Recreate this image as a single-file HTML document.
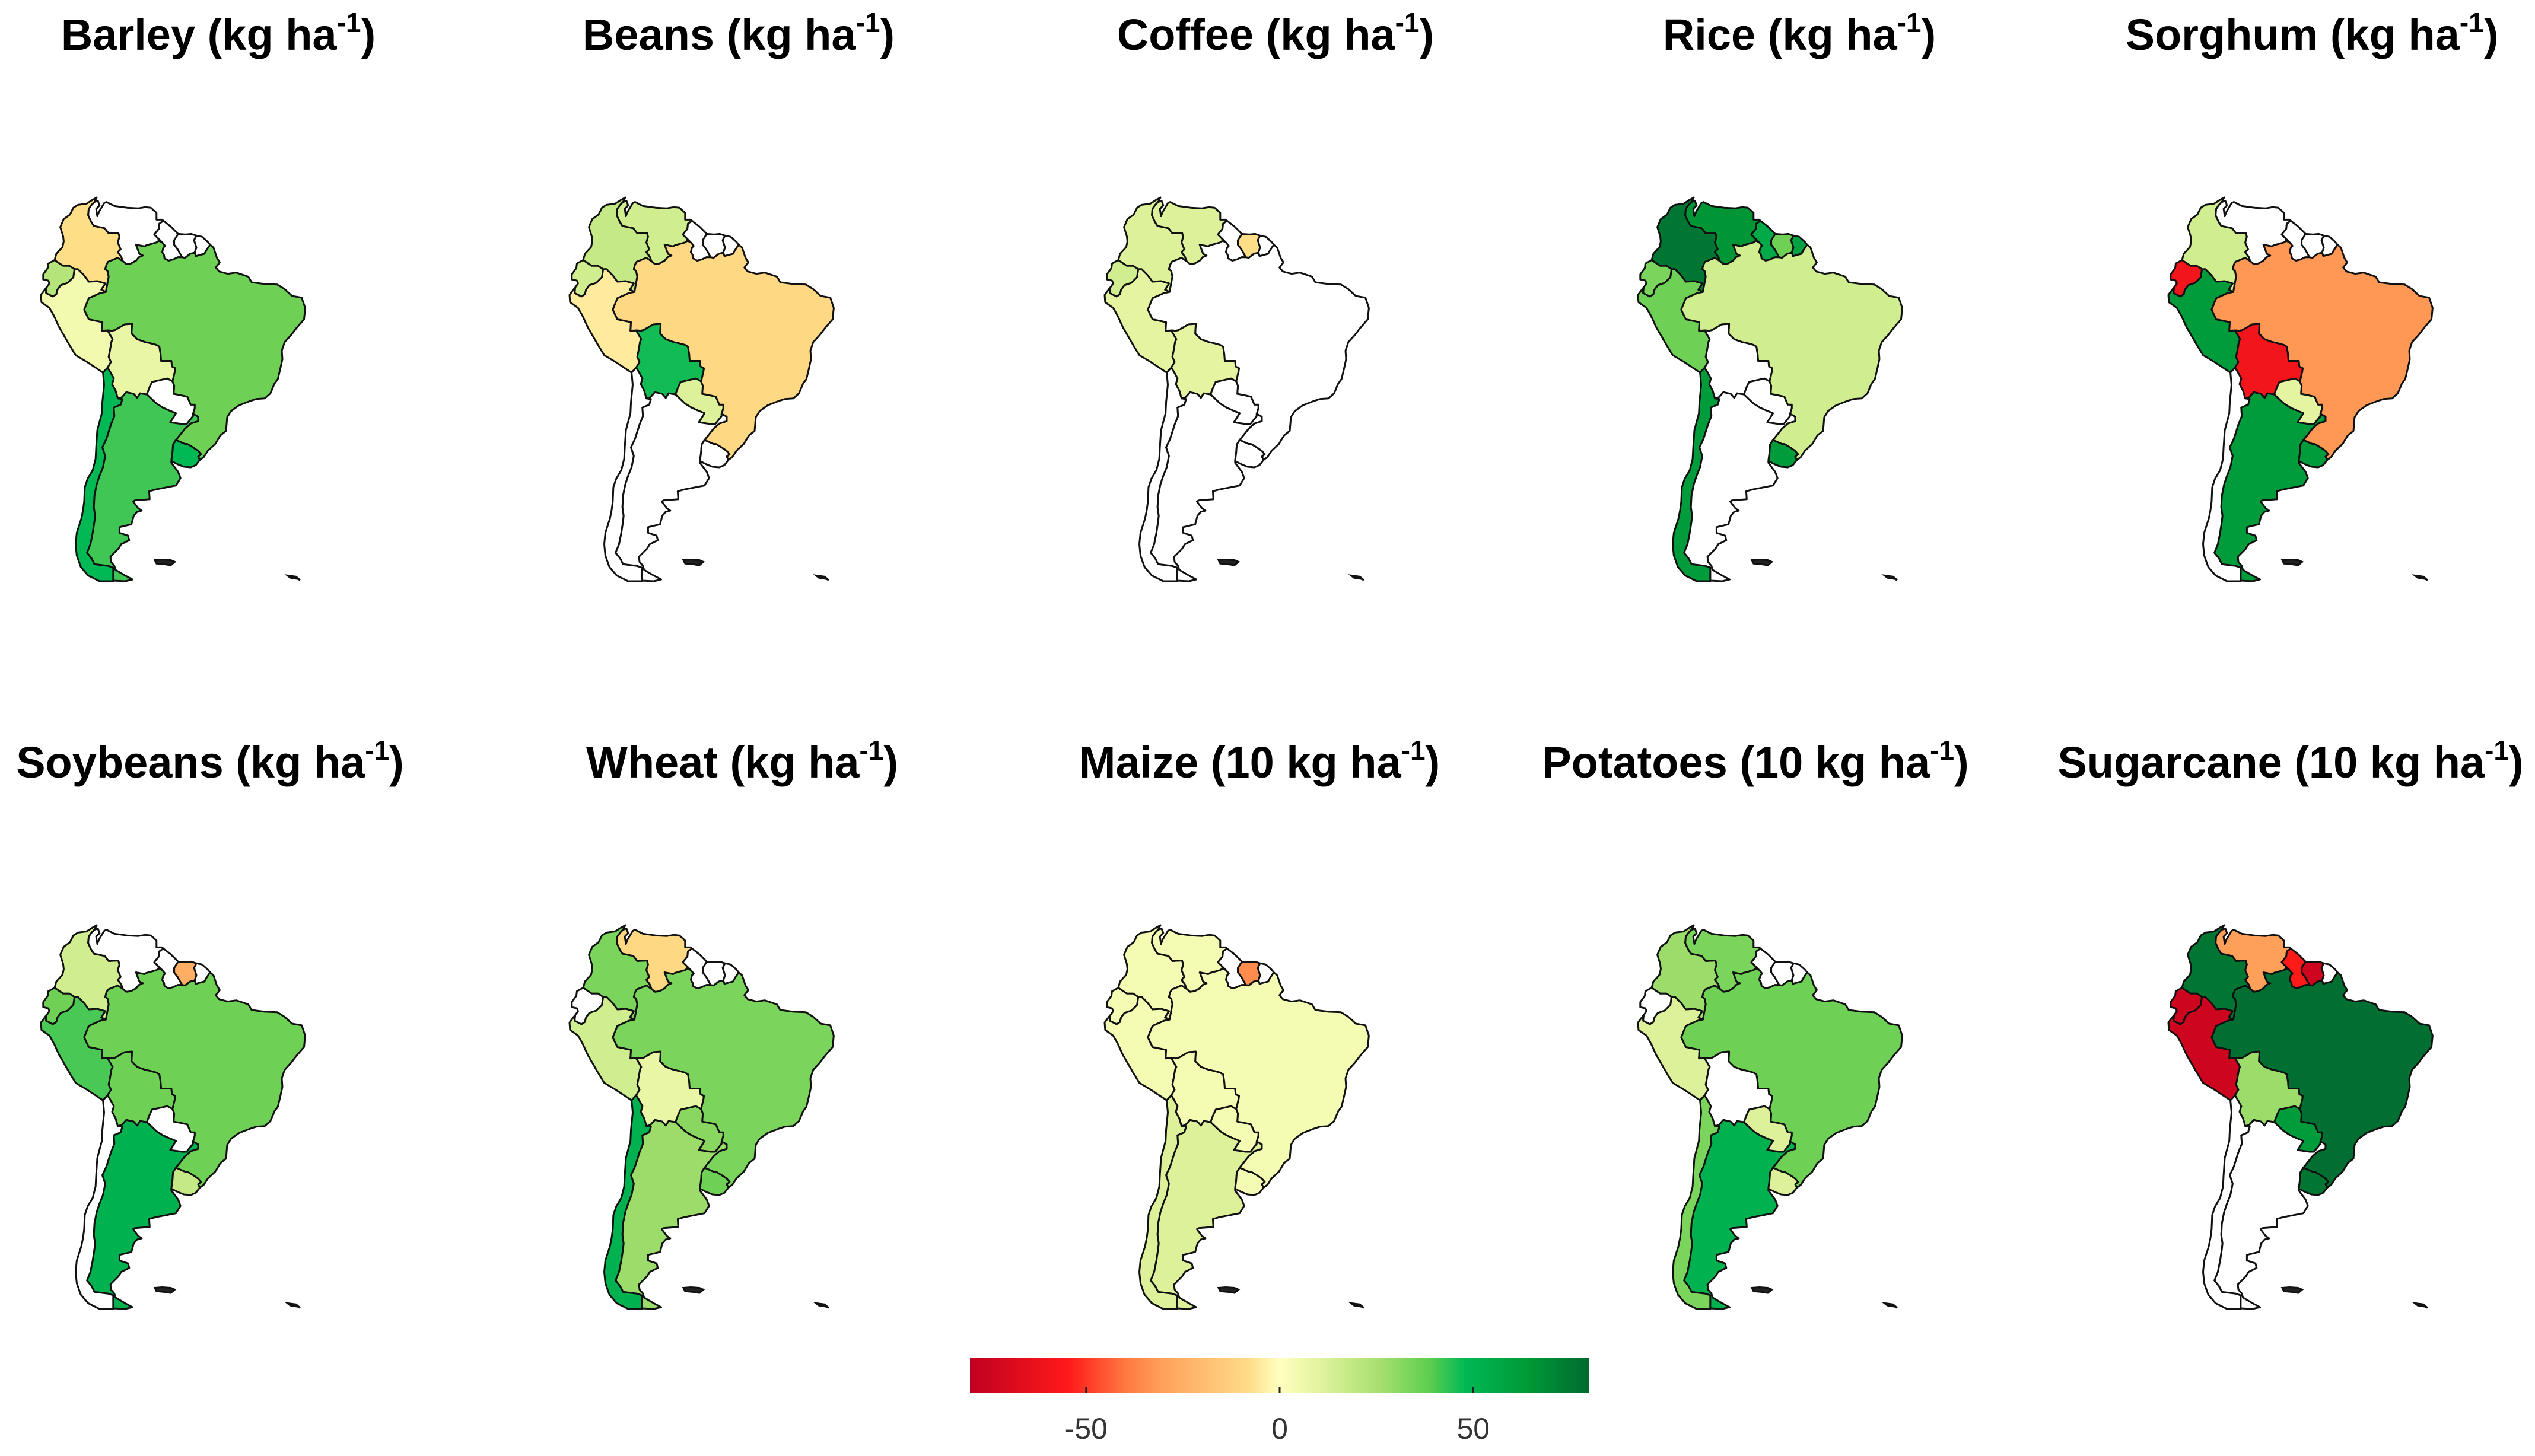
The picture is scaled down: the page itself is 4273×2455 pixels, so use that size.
<!DOCTYPE html>
<html><head><meta charset="utf-8"><style>
html,body{margin:0;padding:0;background:#fff;}
svg{display:block;}
text{font-family:"Liberation Sans",Arial,sans-serif;}
</style></head><body>
<svg id="fig" width="4273" height="2455" viewBox="0 0 4273 2455" xmlns="http://www.w3.org/2000/svg">
<defs>
<linearGradient id="cbar" x1="0" x2="1" y1="0" y2="0">
<stop offset="0" stop-color="#c00020"/>
<stop offset="0.16" stop-color="#ff1a1a"/>
<stop offset="0.25" stop-color="#ff7840"/>
<stop offset="0.31" stop-color="#ffa05a"/>
<stop offset="0.45" stop-color="#ffdc88"/>
<stop offset="0.5" stop-color="#ffffc0"/>
<stop offset="0.56" stop-color="#e4f4a0"/>
<stop offset="0.66" stop-color="#a8e070"/>
<stop offset="0.74" stop-color="#5fcf50"/>
<stop offset="0.80" stop-color="#00b854"/>
<stop offset="0.9" stop-color="#009a36"/>
<stop offset="1" stop-color="#006a30"/>
</linearGradient>
</defs>
<g id="maps"></g>
<g id="colorbar">
<rect x="1635" y="2289" width="1044" height="60" fill="url(#cbar)"/>
<g id="cbticks"></g>
</g>
</svg>
<script>
// ---- data ----
const countries = ["COL","VEN","GUY","SUR","GUF","ECU","PER","BRA","BOL","PRY","CHL","ARG","URY"];
const panelTitles = ["Barley","Beans","Coffee","Rice","Sorghum","Soybeans","Wheat","Maize","Potatoes","Sugarcane"];
const panelUnits = ["kg ha","kg ha","kg ha","kg ha","kg ha","kg ha","kg ha","10 kg ha","10 kg ha","10 kg ha"];
//                 COL  VEN  GUY  SUR  GUF  ECU  PER  BRA  BOL  PRY  CHL  ARG  URY
const barley   = [ -8, null,null,null,null, 22,   5,  38,   8, null, 50,  43,  50];
const beans    = [ 18,  15, null,null,null, 15,  -5, -10,  48,  12, null,null,null];
const coffee   = [ 12,  12, null, -8, null, 15,  10, null, 10, null,null,null,null];
const rice     = [ 75,  62,  55,  38,  58,  35,  38,  15, null,null, 60, null, 60];
const sorghum  = [ 15, null,null,null,null,-60,  60, -32, -60,  10, null, 60,  60];
const soybeans = [ 15, null,null,-25, null, 38,  42,  38,  38, null,null, 52,  18];
const wheat    = [ 35, -10, null,null,null,null, 15,  35,   8,  32,  52,  28,  38];
const maize    = [  4,   4, null,-35, null,  4,   4,   4,   4,   4,  12,  12,   4];
const potatoes = [ 28,  35, null,null,null,null, 12,  38, null, 12,  35,  52,  12];
const sugarcane= [ 75, -30, -55, -75, null,-75, -75,  78,  28,  60, null,null, 75];
const panelValues = [barley,beans,coffee,rice,sorghum,soybeans,wheat,maize,potatoes,sugarcane];
const cbTicks = [-50,0,50];
const cbMin = -80, cbMax = 80;

// ---- geometry (lon,lat) ----
const shapes = {
COL:[[-77.9,7.2],[-77.3,8.6],[-76.2,9.4],[-75.6,10.6],[-74.8,11.1],[-73.3,11.3],[-72.2,12.0],[-71.5,12.4],[-71.9,11.6],[-72.4,11.1],[-72.9,10.4],[-73.0,9.3],[-72.7,8.6],[-72.4,8.0],[-72.0,7.4],[-70.1,7.0],[-69.4,6.1],[-67.7,6.2],[-67.5,5.5],[-67.8,4.5],[-67.3,3.3],[-67.8,2.8],[-67.2,2.0],[-66.9,1.2],[-67.8,1.8],[-69.5,1.1],[-69.8,0.6],[-70.0,-0.2],[-69.6,-0.5],[-69.4,-1.5],[-69.9,-4.2],[-70.7,-3.8],[-70.0,-2.7],[-71.4,-2.3],[-72.9,-2.4],[-73.7,-1.3],[-74.8,-0.2],[-75.4,-0.2],[-76.3,0.4],[-77.4,0.4],[-78.9,1.4],[-78.6,2.5],[-77.5,3.7],[-77.3,4.7],[-77.4,5.6]],
VEN:[[-71.9,11.6],[-71.3,11.8],[-71.0,11.0],[-71.6,10.4],[-71.4,9.1],[-71.1,9.9],[-70.2,11.4],[-69.8,11.6],[-68.4,10.9],[-66.2,10.6],[-64.2,10.5],[-63.0,10.7],[-62.0,10.6],[-61.0,9.7],[-61.0,8.5],[-60.0,8.5],[-59.8,8.3],[-60.5,7.8],[-60.6,6.9],[-61.4,5.9],[-60.7,5.2],[-60.6,4.8],[-61.0,4.5],[-62.8,4.0],[-63.1,3.8],[-64.6,4.1],[-64.0,2.5],[-63.4,2.2],[-64.1,1.9],[-64.6,1.3],[-65.5,0.8],[-66.3,0.7],[-66.9,1.2],[-67.2,2.0],[-67.8,2.8],[-67.3,3.3],[-67.8,4.5],[-67.5,5.5],[-67.7,6.2],[-69.4,6.1],[-70.1,7.0],[-72.0,7.4],[-72.4,8.0],[-72.7,8.6],[-73.0,9.3],[-72.9,10.4],[-72.4,11.1]],
GUY:[[-59.8,8.3],[-58.5,7.3],[-58.0,6.8],[-57.2,6.0],[-57.9,4.9],[-57.9,4.1],[-57.3,3.3],[-56.5,1.9],[-57.3,1.9],[-58.1,1.5],[-58.9,1.3],[-59.6,1.7],[-59.7,2.3],[-60.0,2.8],[-59.8,3.6],[-59.5,3.9],[-60.0,4.5],[-60.7,5.2],[-61.4,5.9],[-60.6,6.9],[-60.5,7.8]],
SUR:[[-57.2,6.0],[-55.9,5.9],[-54.9,6.0],[-54.0,5.7],[-54.4,4.9],[-54.0,3.6],[-54.3,2.7],[-55.1,2.5],[-56.0,1.8],[-56.5,1.9],[-57.3,3.3],[-57.9,4.1],[-57.9,4.9]],
GUF:[[-54.0,5.7],[-53.0,5.5],[-52.0,4.6],[-51.6,4.1],[-52.2,3.2],[-52.6,2.5],[-53.4,2.3],[-54.1,2.1],[-54.3,2.7],[-54.0,3.6],[-54.4,4.9]],
ECU:[[-78.9,1.4],[-77.4,0.4],[-76.3,0.4],[-75.4,-0.2],[-75.6,-1.6],[-76.6,-2.6],[-77.8,-3.0],[-78.4,-3.8],[-78.6,-4.6],[-79.2,-5.0],[-80.4,-4.4],[-80.3,-3.4],[-79.8,-2.7],[-80.0,-2.2],[-80.9,-2.0],[-80.9,-1.1],[-80.1,0.0],[-80.0,0.8]],
PER:[[-75.4,-0.2],[-74.8,-0.2],[-73.7,-1.3],[-72.9,-2.4],[-71.4,-2.3],[-70.0,-2.7],[-70.7,-3.8],[-69.9,-4.2],[-70.9,-4.4],[-72.9,-5.3],[-73.7,-7.3],[-72.9,-9.0],[-70.5,-9.5],[-70.6,-11.0],[-69.6,-10.95],[-68.7,-12.5],[-68.9,-12.9],[-69.2,-14.6],[-69.4,-15.6],[-69.0,-16.5],[-69.6,-17.5],[-70.4,-18.35],[-71.4,-17.7],[-73.2,-16.5],[-75.2,-15.3],[-76.3,-13.5],[-77.1,-12.1],[-78.1,-10.4],[-79.0,-8.4],[-79.8,-7.0],[-81.2,-6.0],[-81.3,-4.7],[-80.4,-3.5],[-80.4,-4.4],[-79.2,-5.0],[-78.6,-4.6],[-78.4,-3.8],[-77.8,-3.0],[-76.6,-2.6],[-75.6,-1.6]],
BOL:[[-69.6,-10.95],[-68.8,-11.0],[-68.3,-10.9],[-66.6,-9.9],[-65.3,-9.8],[-65.4,-11.5],[-64.4,-12.5],[-63.0,-13.0],[-62.1,-13.2],[-61.0,-13.5],[-60.5,-13.8],[-60.3,-15.1],[-60.2,-16.3],[-58.4,-16.3],[-58.3,-17.3],[-57.7,-17.6],[-57.8,-18.2],[-58.2,-19.9],[-59.1,-19.4],[-61.8,-20.0],[-62.3,-21.1],[-62.7,-22.2],[-63.9,-22.0],[-64.4,-22.8],[-65.0,-22.1],[-66.3,-21.8],[-67.1,-22.7],[-67.8,-22.9],[-68.2,-21.5],[-68.8,-20.4],[-68.5,-19.4],[-69.1,-18.3],[-69.6,-17.5],[-69.0,-16.5],[-69.4,-15.6],[-69.2,-14.6],[-68.9,-12.9],[-68.7,-12.5]],
PRY:[[-58.2,-19.9],[-59.1,-19.4],[-61.8,-20.0],[-62.3,-21.1],[-62.7,-22.2],[-61.0,-23.8],[-59.9,-24.5],[-58.8,-25.0],[-57.6,-25.5],[-58.6,-27.1],[-56.5,-27.4],[-55.7,-27.4],[-54.6,-26.0],[-54.6,-25.6],[-54.3,-24.6],[-54.3,-24.0],[-55.0,-24.0],[-55.6,-22.6],[-56.9,-22.3],[-58.0,-22.1],[-57.9,-20.7]],
URY:[[-57.6,-30.2],[-56.0,-30.9],[-55.6,-30.9],[-54.6,-31.5],[-53.7,-32.1],[-53.2,-32.7],[-53.7,-33.1],[-53.4,-33.7],[-54.1,-34.6],[-55.0,-35.0],[-56.2,-34.9],[-57.2,-34.5],[-58.4,-33.9],[-58.2,-32.4],[-58.1,-31.0]],
CHL:[[-69.6,-17.5],[-70.4,-18.35],[-70.2,-20.5],[-70.5,-23.5],[-70.6,-25.5],[-71.4,-28.5],[-71.6,-31.5],[-71.7,-33.5],[-72.2,-35.5],[-73.1,-37.0],[-73.6,-38.5],[-73.7,-41.0],[-73.9,-42.5],[-74.2,-44.0],[-75.0,-46.5],[-75.2,-48.5],[-75.0,-50.5],[-74.3,-52.5],[-73.0,-54.0],[-71.0,-55.0],[-68.6,-55.0],[-68.6,-52.6],[-69.5,-52.3],[-71.9,-52.0],[-72.4,-51.0],[-73.2,-50.0],[-72.6,-48.5],[-72.2,-46.5],[-71.9,-44.5],[-71.8,-43.5],[-72.0,-42.0],[-71.9,-40.0],[-71.5,-38.0],[-71.0,-36.5],[-70.4,-35.0],[-70.0,-33.0],[-70.5,-31.5],[-69.8,-30.0],[-69.0,-27.5],[-68.4,-26.0],[-68.5,-24.5],[-67.3,-24.0],[-67.0,-23.0],[-67.8,-22.9],[-68.2,-21.5],[-68.8,-20.4],[-68.5,-19.4],[-69.1,-18.3]],
ARG:[[-67.8,-22.9],[-67.0,-23.0],[-67.3,-24.0],[-68.5,-24.5],[-68.4,-26.0],[-69.0,-27.5],[-69.8,-30.0],[-70.5,-31.5],[-70.0,-33.0],[-70.4,-35.0],[-71.0,-36.5],[-71.5,-38.0],[-71.9,-40.0],[-72.0,-42.0],[-71.8,-43.5],[-71.9,-44.5],[-72.2,-46.5],[-72.6,-48.5],[-73.2,-50.0],[-72.4,-51.0],[-71.9,-52.0],[-69.5,-52.3],[-68.6,-52.6],[-68.6,-54.9],[-66.5,-55.0],[-65.2,-54.7],[-66.5,-54.0],[-68.2,-53.0],[-68.4,-52.3],[-69.0,-51.6],[-69.1,-50.7],[-68.5,-50.1],[-67.7,-49.3],[-67.2,-48.5],[-65.8,-47.8],[-66.0,-47.0],[-67.5,-46.5],[-67.5,-45.5],[-65.4,-45.0],[-65.0,-43.5],[-64.4,-42.8],[-63.6,-42.6],[-64.2,-42.2],[-65.1,-41.0],[-64.8,-40.8],[-62.2,-40.6],[-62.3,-39.2],[-61.2,-38.9],[-57.6,-38.2],[-56.8,-36.9],[-57.2,-35.8],[-58.4,-34.2],[-58.4,-33.9],[-58.2,-32.4],[-58.1,-31.0],[-57.6,-30.2],[-56.0,-28.2],[-55.0,-27.3],[-53.7,-26.9],[-53.7,-26.1],[-54.6,-25.6],[-54.6,-26.0],[-55.7,-27.4],[-56.5,-27.4],[-58.6,-27.1],[-57.6,-25.5],[-58.8,-25.0],[-59.9,-24.5],[-61.0,-23.8],[-62.7,-22.2],[-63.9,-22.0],[-64.4,-22.8],[-65.0,-22.1],[-66.3,-21.8],[-67.1,-22.7]],
BRA:[[-69.9,-4.2],[-69.4,-1.5],[-69.6,-0.5],[-70.0,-0.2],[-69.8,0.6],[-69.5,1.1],[-67.8,1.8],[-66.9,1.2],[-66.3,0.7],[-65.5,0.8],[-64.6,1.3],[-64.1,1.9],[-63.4,2.2],[-64.0,2.5],[-64.6,4.1],[-63.1,3.8],[-62.8,4.0],[-61.0,4.5],[-60.6,4.8],[-60.0,4.5],[-59.5,3.9],[-59.8,3.6],[-60.0,2.8],[-59.7,2.3],[-59.6,1.7],[-58.9,1.3],[-58.1,1.5],[-57.3,1.9],[-56.5,1.9],[-56.0,1.8],[-55.1,2.5],[-54.3,2.7],[-54.1,2.1],[-53.4,2.3],[-52.6,2.5],[-52.2,3.2],[-51.6,4.1],[-51.0,3.6],[-50.4,1.8],[-49.9,1.0],[-50.6,0.1],[-50.0,-0.6],[-48.5,-1.0],[-47.0,-0.8],[-44.9,-1.5],[-44.3,-2.5],[-42.0,-2.8],[-39.8,-2.9],[-38.5,-3.7],[-37.2,-4.9],[-35.5,-5.2],[-34.9,-7.0],[-35.1,-9.0],[-36.4,-10.5],[-37.4,-11.8],[-38.5,-13.0],[-39.0,-14.5],[-38.9,-16.0],[-39.3,-17.8],[-39.7,-19.5],[-40.3,-20.3],[-41.0,-22.0],[-42.0,-22.9],[-43.5,-23.0],[-44.7,-23.4],[-46.5,-24.1],[-47.9,-25.1],[-48.6,-26.2],[-48.7,-27.5],[-48.8,-28.6],[-49.8,-29.4],[-50.7,-30.9],[-52.0,-32.1],[-52.7,-33.2],[-53.4,-33.7],[-53.7,-33.1],[-53.2,-32.7],[-53.7,-32.1],[-54.6,-31.5],[-55.6,-30.9],[-56.0,-30.9],[-57.6,-30.2],[-56.0,-28.2],[-55.0,-27.3],[-53.7,-26.9],[-53.7,-26.1],[-54.6,-25.6],[-54.3,-24.6],[-54.3,-24.0],[-55.0,-24.0],[-55.6,-22.6],[-56.9,-22.3],[-58.0,-22.1],[-57.9,-20.7],[-58.2,-19.9],[-57.8,-18.2],[-57.7,-17.6],[-58.3,-17.3],[-58.4,-16.3],[-60.2,-16.3],[-60.3,-15.1],[-60.5,-13.8],[-61.0,-13.5],[-62.1,-13.2],[-63.0,-13.0],[-64.4,-12.5],[-65.4,-11.5],[-65.3,-9.8],[-66.6,-9.9],[-68.3,-10.9],[-68.8,-11.0],[-69.6,-10.95],[-70.6,-11.0],[-70.5,-9.5],[-72.9,-9.0],[-73.7,-7.3],[-72.9,-5.3],[-70.9,-4.4]]
};
const islands = [
 [[-61.3,-51.3],[-60.0,-51.2],[-58.5,-51.3],[-57.8,-51.6],[-58.5,-52.2],[-59.8,-52.0],[-61.0,-51.9]],
 [[-38.0,-54.0],[-36.5,-54.2],[-35.8,-54.8],[-36.2,-54.6],[-37.5,-54.4]]
];

const stops = [[-80,[192,0,32]],[-55,[255,26,26]],[-40,[255,120,64]],[-30,[255,160,90]],[-8,[255,222,136]],[0,[255,255,192]],[10,[228,244,160]],[25,[168,224,112]],[38,[110,208,85]],[50,[0,184,84]],[62,[0,150,54]],[80,[0,106,48]]];
function colorFor(v){
  if(v===null) return "#ffffff";
  v=Math.max(cbMin,Math.min(cbMax,v));
  for(let i=0;i<stops.length-1;i++){
    const a=stops[i],b=stops[i+1];
    if(v<=b[0]){const t=(v-a[0])/(b[0]-a[0]);
      const c=a[1].map((x,k)=>Math.round(x+(b[1][k]-x)*t));
      return `rgb(${c[0]},${c[1]},${c[2]})`;}
  }
  return "rgb(0,106,48)";
}

const NS="http://www.w3.org/2000/svg";
const colLeft=[68,959,1861,2760,3654];
const rowTop=[332,1559];
const titleCx=[[368,1245,2150,3033,3897],[354,1251,2123,2959,3861]];
const titleY=[84,1311];
const S=9.6;
function px(lon,ox){return ox+(lon+81.4)*S;}
function py(lat,oy){return oy+(12.5-lat)*S;}
function pathFor(pts,ox,oy){return "M"+pts.map(p=>px(p[0],ox).toFixed(1)+","+py(p[1],oy).toFixed(1)).join("L")+"Z";}

const maps=document.getElementById("maps");
panelTitles.forEach((title,pi)=>{
  const r=Math.floor(pi/5), c=pi%5;
  const ox=colLeft[c], oy=rowTop[r];
  const g=document.createElementNS(NS,"g");
  
  
  const t=document.createElementNS(NS,"text");
  
  
  t.setAttribute("x",titleCx[r][c]); t.setAttribute("y",titleY[r]);
  t.setAttribute("text-anchor","middle"); t.setAttribute("font-size","74"); t.setAttribute("font-weight","bold"); t.setAttribute("fill","#000");
  t.innerHTML=`${title} (${panelUnits[pi]}<tspan font-size="46" dy="-30">-1</tspan><tspan dy="30">)</tspan>`;
  g.appendChild(t);
  countries.forEach((cc,ci)=>{
    const p=document.createElementNS(NS,"path");
    
    
    p.setAttribute("d",pathFor(shapes[cc],ox,oy));
    p.setAttribute("fill",colorFor(panelValues[pi][ci]));
    p.setAttribute("stroke","#111"); p.setAttribute("stroke-width","3"); p.setAttribute("stroke-linejoin","round");
    g.appendChild(p);
  });
  islands.forEach((isl,ii)=>{
    const p=document.createElementNS(NS,"path");
    
    
    p.setAttribute("d",pathFor(isl,ox,oy));
    p.setAttribute("fill","#222"); p.setAttribute("stroke","#111"); p.setAttribute("stroke-width","3");
    g.appendChild(p);
  });
  maps.appendChild(g);
});

const tk=document.getElementById("cbticks");
function cbX(v){return 1635+(v-cbMin)/(cbMax-cbMin)*1044;}
cbTicks.forEach(v=>{
  const l=document.createElementNS(NS,"line");
  
  
  l.setAttribute("x1",cbX(v));l.setAttribute("x2",cbX(v));l.setAttribute("y1",2338);l.setAttribute("y2",2349);
  l.setAttribute("stroke","#222");l.setAttribute("stroke-width","3");
  tk.appendChild(l);
  const t=document.createElementNS(NS,"text");
  
  
  t.setAttribute("x",cbX(v));t.setAttribute("y",2426);t.setAttribute("text-anchor","middle");
  t.setAttribute("font-size","50");t.setAttribute("fill","#333");
  t.textContent=String(v);
  tk.appendChild(t);
});
</script>
</body></html>
